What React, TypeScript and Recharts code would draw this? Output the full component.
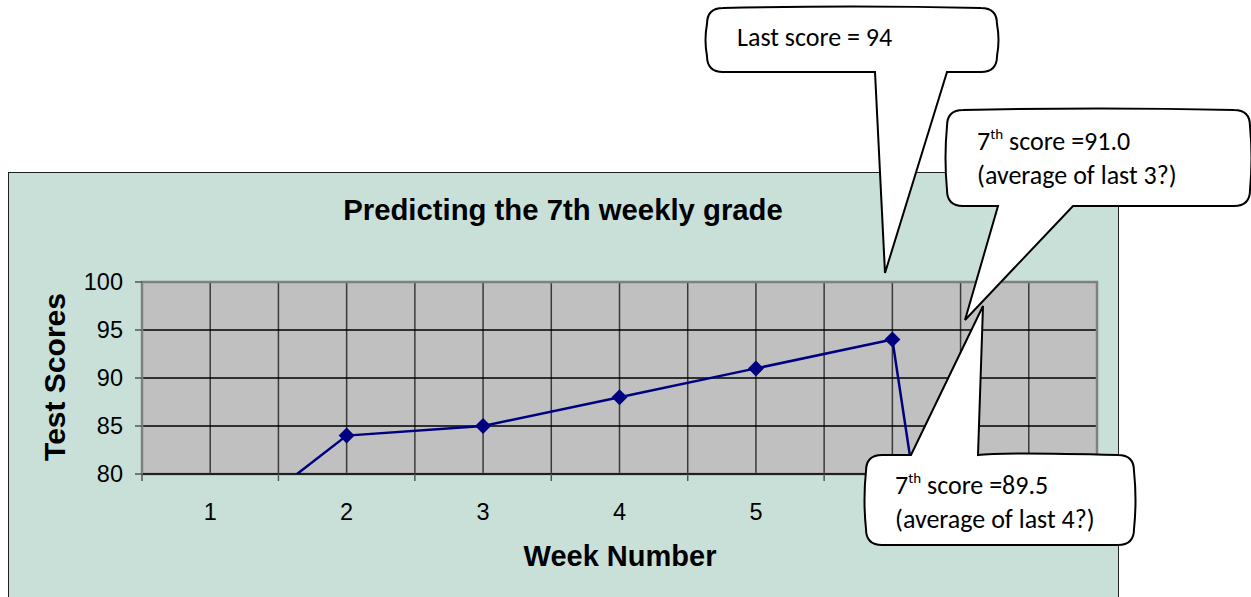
import React from "react";
import {
  LineChart,
  Line,
  XAxis,
  YAxis,
  CartesianGrid,
  ReferenceArea,
} from "recharts";

const weeks = [1, 2, 3, 4, 5, 6, 7];
// week 7 is an empty cell in the sheet, plotted as 0
const scores = [73, 84, 85, 88, 91, 94, 0];
const xTicks = [0.5, 1, 1.5, 2, 2.5, 3, 3.5, 4, 4.5, 5, 5.5, 6, 6.5, 7, 7.5];
const yTicks = [80, 85, 90, 95, 100];

const chartTitle = "Predicting the 7th weekly grade";
const xTitle = "Week Number";
const yTitle = "Test Scores";

const data = weeks.map((w, i) => ({ week: w, score: scores[i] }));

const ARIAL = "'Liberation Sans', Arial, sans-serif";
const CALIBRI = "Carlito, Calibri, Lato, sans-serif";

function XTick(props: any) {
  const { x, y, payload } = props;
  const v = payload.value;
  if (!Number.isInteger(v)) {
    return <line x1={x} x2={x} y1={y} y2={y + 7} stroke="#555" strokeWidth={1.5} />;
  }
  return (
    <text x={x} y={y + 46} textAnchor="middle" fontFamily={ARIAL} fontSize={23.5} fill="#000">
      {v}
    </text>
  );
}

function Diamond(props: any) {
  const { cx, cy } = props;
  if (cx == null || cy == null) return null;
  const r = 8;
  return (
    <path
      d={`M${cx},${cy - r}L${cx + r},${cy}L${cx},${cy + r}L${cx - r},${cy}Z`}
      fill="#000080"
    />
  );
}

// speech bubble outline with a wedge pointer
function bubblePath(
  x: number,
  y: number,
  w: number,
  h: number,
  a: number,
  b: number,
  tx: number,
  ty: number,
  side: "top" | "bottom"
) {
  const r = 16;
  const bw = 3;
  const x2 = x + w;
  const y2 = y + h;
  let d = `M${x + r},${y}`;
  if (side === "top") {
    d += `L${a},${y}L${tx},${ty}L${b},${y}`;
  }
  d += `Q${(x + x2) / 2},${y - bw} ${x2 - r},${y}`;
  d += `Q${x2},${y} ${x2},${y + r}`;
  d += `Q${x2 + bw},${(y + y2) / 2} ${x2},${y2 - r}`;
  d += `Q${x2},${y2} ${x2 - r},${y2}`;
  if (side === "bottom") {
    d += `L${b},${y2}L${tx},${ty}L${a},${y2}`;
  }
  d += `L${x + r},${y2}`;
  d += `Q${x},${y2} ${x},${y2 - r}`;
  d += `Q${x - bw},${(y + y2) / 2} ${x},${y + r}`;
  d += `Q${x},${y} ${x + r},${y}Z`;
  return d;
}

function Callouts() {
  return (
    <svg
      width={1251}
      height={597}
      style={{ position: "absolute", left: 0, top: 0, pointerEvents: "none" }}
    >
      <g fill="#fff" stroke="#000" strokeWidth={2} strokeLinejoin="miter">
        <path d={bubblePath(707, 8, 290, 64, 875, 947, 885, 273, "bottom")} />
        <path d={bubblePath(947, 110, 303, 96, 998, 1073, 965, 320, "bottom")} />
        <path d={bubblePath(866, 455, 268, 90, 911, 978, 983, 306, "top")} />
      </g>
      <g fontFamily={CALIBRI} fontSize={26} fill="#000">
        <text x={737} y={46}>Last score = 94</text>
        <text x={977} y={150}>
          7<tspan fontSize={15} dy={-11}>th</tspan>
          <tspan dy={11}> score =91.0</tspan>
        </text>
        <text x={977} y={184}>(average of last 3?)</text>
        <text x={895} y={494}>
          7<tspan fontSize={15} dy={-11}>th</tspan>
          <tspan dy={11}> score =89.5</tspan>
        </text>
        <text x={895} y={528}>(average of last 4?)</text>
      </g>
    </svg>
  );
}

export default function App() {
  return (
    <div
      style={{
        position: "absolute",
        left: 0,
        top: 0,
        width: 1251,
        height: 597,
        overflow: "hidden",
        background: "#fff",
      }}
    >
      <div
        style={{
          position: "absolute",
          left: 8,
          top: 172,
          width: 1111,
          height: 440,
          background: "#c9e0d9",
          border: "1px solid #222",
          boxSizing: "border-box",
        }}
      />
      <div
        style={{
          position: "absolute",
          left: 563,
          top: 210,
          transform: "translate(-50%, -50%)",
          fontFamily: ARIAL,
          fontWeight: "bold",
          fontSize: 29.3,
          whiteSpace: "nowrap",
        }}
      >
        {chartTitle}
      </div>
      <div style={{ position: "absolute", left: 0, top: 0 }}>
        <LineChart
          width={1251}
          height={597}
          data={data}
          margin={{ top: 282, right: 154, left: 42, bottom: 63 }}
          accessibilityLayer={false}
        >
          <CartesianGrid
            horizontal={false}
            fill="#c0c0c0"
            stroke="#3a3a3a"
            strokeWidth={1.5}
          />
          <CartesianGrid vertical={false} stroke="#000" strokeWidth={1.5} />
          <XAxis
            type="number"
            dataKey="week"
            domain={[0.5, 7.5]}
            ticks={xTicks}
            interval={0}
            allowDataOverflow
            tickSize={0}
            tickMargin={0}
            tickLine={false}
            tick={<XTick />}
            axisLine={{ stroke: "#000", strokeWidth: 1.5 }}
            height={60}
          />
          <YAxis
            type="number"
            domain={[80, 100]}
            ticks={yTicks}
            interval={0}
            allowDataOverflow
            width={100}
            tickSize={7}
            tickMargin={12}
            tickLine={{ stroke: "#555", strokeWidth: 1.5 }}
            axisLine={{ stroke: "#808080", strokeWidth: 2 }}
            tick={{ fill: "#000", fontSize: 23.5, fontFamily: ARIAL }}
          />
          <ReferenceArea
            x1={0.5}
            x2={7.5}
            y1={80}
            y2={100}
            fill="none"
            stroke="#808080"
            strokeWidth={2.5}
          />
          <Line
            dataKey="score"
            stroke="#000080"
            strokeWidth={2.5}
            dot={<Diamond />}
            activeDot={false}
            isAnimationActive={false}
          />
        </LineChart>
      </div>
      <div
        style={{
          position: "absolute",
          left: 55,
          top: 377,
          transform: "translate(-50%, -50%) rotate(-90deg)",
          fontFamily: ARIAL,
          fontWeight: "bold",
          fontSize: 30,
          whiteSpace: "nowrap",
        }}
      >
        {yTitle}
      </div>
      <div
        style={{
          position: "absolute",
          left: 620,
          top: 556,
          transform: "translate(-50%, -50%)",
          fontFamily: ARIAL,
          fontWeight: "bold",
          fontSize: 29,
          whiteSpace: "nowrap",
        }}
      >
        {xTitle}
      </div>
      <Callouts />
    </div>
  );
}
